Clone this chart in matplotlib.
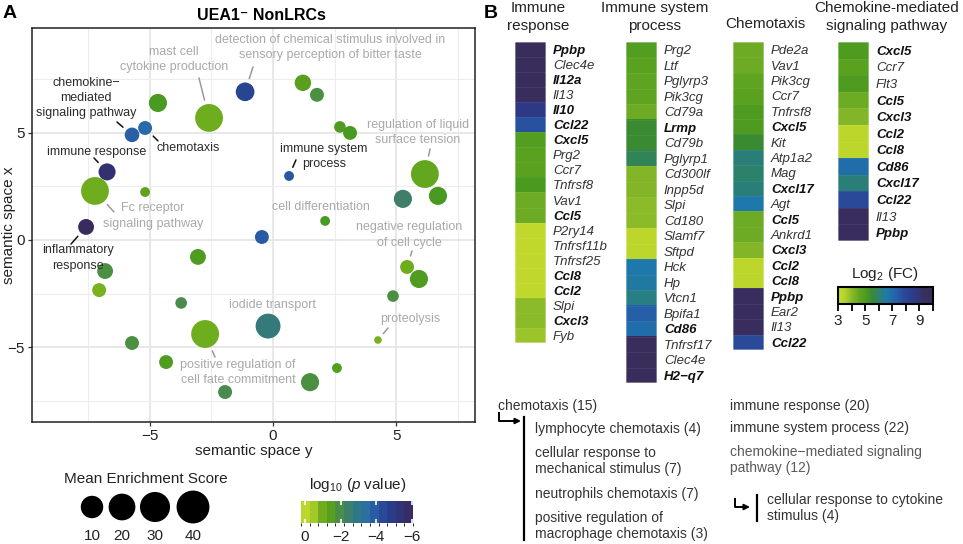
"""Recreate the UEA1- NonLRCs GO bubble plot (A) and gene heatmaps (B)."""

import matplotlib
matplotlib.use("Agg")
import matplotlib.pyplot as plt
import numpy as np
from matplotlib.cm import ScalarMappable
from matplotlib.colors import BoundaryNorm, LinearSegmentedColormap, ListedColormap, Normalize

plt.rcParams["font.family"] = ["Liberation Sans", "DejaVu Sans"]
plt.rcParams["mathtext.fontset"] = "custom"
plt.rcParams["mathtext.rm"] = "Liberation Sans"
plt.rcParams["mathtext.it"] = "Liberation Sans:italic"

W, H = 963, 544

# ---- panel A data (semantic space y is horizontal, x vertical)
space_y = [1.21, 1.78, -1.13, -2.59, -4.66, -5.18, -5.71, 2.71, 3.12, 0.65,
           -6.72, -7.21, 6.15, -5.18, 5.26, 6.68, 2.11, -7.57, -0.45, -3.04,
           -6.80, 5.43, 5.91, -7.04, 4.86, -3.72, -0.20, -2.75, 4.25, -5.71,
           -4.33, 2.59, 1.50, -1.94]
space_x = [7.34, 6.78, 6.92, 5.70, 6.40, 5.23, 4.91, 5.28, 5.00, 2.99,
           3.18, 2.29, 3.08, 2.24, 1.92, 2.06, 0.89, 0.61, 0.14, -0.79,
           -1.45, -1.26, -1.82, -2.34, -2.62, -2.94, -4.02, -4.39, -4.67, -4.81,
           -5.70, -5.98, -6.64, -7.10]
log10_p = [-1.4, -1.9, -4.5, -1.0, -1.7, -3.6, -3.8, -1.6, -1.7, -4.0,
           -5.4, -1.0, -1.2, -1.3, -2.4, -1.7, -1.7, -6.0, -3.9, -1.6,
           -1.9, -1.0, -1.6, -0.9, -1.9, -2.0, -2.7, -1.0, -0.9, -1.9,
           -1.6, -1.5, -1.9, -2.0]
enrichment = [14, 10, 18, 40, 17, 10, 11, 7, 10, 5,
              15, 40, 40, 5, 17, 17, 5, 13, 10, 13,
              13, 10, 17, 10, 7, 7, 32, 40, 3, 10,
              10, 5, 17, 10]

# (bubble index, text, text position, dark?, leader end)
term_labels = [
    (6, "chemokine\u2212\nmediated\nsignaling pathway", (-7.57, 6.64), True, (-6.32, 5.51)),
    (5, "chemotaxis", (-3.44, 4.30), True, (-4.66, 4.63)),
    (10, "immune response", (-7.13, 4.11), True, (-7.25, 3.83)),
    (9, "immune system\nprocess", (2.06, 3.88), True, (0.93, 3.74)),
    (17, "inflammatory\nresponse", (-7.89, -0.84), True, (-8.18, -0.19)),
    (3, "mast cell\ncytokine production", (-4.01, 8.41), False, (-3.0, 7.57)),
    (2, "detection of chemical stimulus involved in\nsensory perception of bitter taste",
     (2.31, 8.97), False, (-0.81, 8.08)),
    (12, "regulation of liquid\nsurface tension", (5.87, 5.0), False, (6.36, 4.25)),
    (11, "Fc receptor\nsignaling pathway", (-4.86, 1.12), False, (-6.44, 1.31)),
    (16, "cell differentiation", (1.94, 1.54), False, None),
    (21, "negative regulation\nof cell cycle", (5.51, 0.23), False, (5.63, -0.51)),
    (26, "iodide transport", (-0.04, -3.04), False, None),
    (28, "proteolysis", (5.55, -3.69), False, (4.66, -4.11)),
    (27, "positive regulation of\ncell fate commitment", (-1.42, -6.17), False, (-2.35, -5.47)),
]

legend_scores = [10, 20, 30, 40]

# ---- panel B data
ir_genes = ["Ppbp", "Clec4e", "Il12a", "Il13", "Il10", "Ccl22", "Cxcl5", "Prg2", "Ccr7",
            "Tnfrsf8", "Vav1", "Ccl5", "P2ry14", "Tnfrsf11b", "Tnfrsf25", "Ccl8", "Ccl2",
            "Slpi", "Cxcl3", "Fyb"]
ir_fc = [9.8, 9.8, 9.7, 9.7, 8.6, 7.6, 4.9, 4.7, 4.7, 5.1, 4.4, 4.4, 3.2, 3.2, 3.2, 3.2, 3.2,
         4.0, 4.0, 3.8]
isp_genes = ["Prg2", "Ltf", "Pglyrp3", "Pik3cg", "Cd79a", "Lrmp", "Cd79b", "Pglyrp1",
             "Cd300lf", "Inpp5d", "Slpi", "Cd180", "Slamf7", "Sftpd", "Hck", "Hp", "Vtcn1",
             "Bpifa1", "Cd86", "Tnfrsf17", "Clec4e", "H2\u2212q7"]
isp_fc = [4.9, 4.7, 4.6, 4.6, 4.4, 5.5, 5.5, 5.8, 4.1, 4.1, 4.0, 4.0, 3.3, 3.3, 6.6, 6.5, 6.2,
          7.3, 6.9, 9.7, 9.8, 9.8]
chemo_genes = ["Pde2a", "Vav1", "Pik3cg", "Ccr7", "Tnfrsf8", "Cxcl5", "Kit", "Atp1a2", "Mag",
               "Cxcl17", "Agt", "Ccl5", "Ankrd1", "Cxcl3", "Ccl2", "Ccl8", "Ppbp", "Ear2",
               "Il13", "Ccl22"]
chemo_fc = [4.4, 4.4, 4.6, 4.7, 5.0, 5.0, 5.5, 6.1, 6.0, 6.1, 6.6, 4.4, 4.4, 4.1, 3.3, 3.3,
            9.7, 9.7, 9.7, 7.8]
cmsp_genes = ["Cxcl5", "Ccr7", "Flt3", "Ccl5", "Cxcl3", "Ccl2", "Ccl8", "Cd86", "Cxcl17",
              "Ccl22", "Il13", "Ppbp"]
cmsp_fc = [5.0, 4.7, 5.0, 4.4, 4.1, 3.3, 3.3, 6.9, 6.1, 7.8, 9.7, 9.7]
bold_genes = {"Ppbp", "Il12a", "Il10", "Ccl22", "Cxcl5", "Ccl5", "Ccl8", "Ccl2", "Cxcl3",
              "Lrmp", "Cd86", "H2\u2212q7", "Cxcl17"}

# ---- colour scales
P_MIN, P_MAX = -6.05, 0.22
p_anchors = [(0.22, "#c8dc2e"), (-0.5, "#a2c82a"), (-1.0, "#6cac1e"), (-1.4, "#58a01e"),
             (-1.7, "#4a9a22"), (-2.0, "#4a8a50"), (-2.4, "#3f7f6a"), (-2.8, "#31797f"),
             (-3.2, "#2a7598"), (-3.6, "#2a6aaa"), (-4.0, "#2a56a2"), (-4.5, "#284592"),
             (-5.0, "#2d3a84"), (-5.5, "#322f6e"), (-6.05, "#3a2b5c")]
p_cmap = LinearSegmentedColormap.from_list(
    "pval", [((v - P_MIN) / (P_MAX - P_MIN), c) for v, c in reversed(p_anchors)])
p_norm = Normalize(P_MIN, P_MAX)

fc_anchors = [(3, "#c9dd2c"), (3.5, "#b4d22c"), (4.1, "#82b628"), (4.6, "#5fa421"),
              (5.1, "#4a9a20"), (5.5, "#3a8a32"), (6.1, "#2a8078"), (6.6, "#1f78ac"),
              (7.3, "#2560a8"), (7.8, "#2a4a9a"), (8.6, "#2e3a86"), (9.4, "#35305f"),
              (10, "#3b2c5c")]
fc_cmap = LinearSegmentedColormap.from_list(
    "fc", [((v - 3) / 7, c) for v, c in fc_anchors])
fc_norm = Normalize(3, 10)


def px_axes(fig, x0, y0, x1, y1):
    return fig.add_axes([x0 / W, 1 - y1 / H, (x1 - x0) / W, (y1 - y0) / H])


def bubble_radius(score):
    return 2.2 * np.sqrt(score)


def marker_area(radius_px):
    return (2 * radius_px * 72 / 100) ** 2


def draw_bubbles(fig):
    ax = px_axes(fig, 32, 28, 475, 422)
    ax.set_xlim(-9.76, 8.18)
    ax.set_ylim(-8.5, 9.9)
    ax.set_xticks([-5, 0, 5])
    ax.set_yticks([-5, 0, 5])
    ax.set_xticks([-7.5, -2.5, 2.5, 7.5], minor=True)
    ax.set_yticks([-7.5, -2.5, 2.5, 7.5], minor=True)
    ax.grid(True, which="major", color="#e6e6e6", lw=1.3, zorder=0)
    ax.grid(True, which="minor", color="#ededed", lw=0.8, zorder=0)
    ax.set_axisbelow(True)
    ax.tick_params(which="minor", length=0)
    ax.tick_params(which="major", length=3, width=0.9, color="#333333",
                   labelsize=11, labelcolor="#222222", pad=2)
    for spine in ax.spines.values():
        spine.set_linewidth(1.1)
        spine.set_color("#222222")

    radii = [bubble_radius(s) for s in enrichment]
    ax.scatter(space_y, space_x, s=[marker_area(r) for r in radii],
               c=log10_p, cmap=p_cmap, norm=p_norm, edgecolors="none", zorder=3)

    for idx, text, (tx, ty), dark, leader in term_labels:
        color = "#2b2b2b" if dark else "#a9a9a9"
        if leader is not None:
            ax.annotate("", xy=(space_y[idx], space_x[idx]), xytext=leader,
                        arrowprops=dict(arrowstyle="-", color="#111111" if dark else "#999999",
                                        lw=1.1, shrinkA=0,
                                        shrinkB=(radii[idx] + 4.5) * 0.72),
                        zorder=4)
        ax.text(tx, ty, text, ha="center", va="center", fontsize=9, color=color,
                linespacing=1.35, zorder=5)

    ax.set_xlabel("semantic space y", fontsize=11, color="#222222", labelpad=1)
    ax.set_ylabel("semantic space x", fontsize=11, color="#222222", va="center")
    ax.yaxis.set_label_coords((9 - 32) / 443, 0.5)


def draw_heatmap(fig, rect, genes, values):
    ax = px_axes(fig, *rect)
    ax.imshow(np.array(values)[:, None], cmap=fc_cmap, norm=fc_norm,
              aspect="auto", interpolation="nearest")
    ax.hlines(np.arange(0.5, len(genes) - 0.5), -0.5, 0.5, color="white",
              alpha=0.07, lw=0.6)
    ax.set_xticks([])
    ax.set_yticks(range(len(genes)))
    ax.set_yticklabels(genes)
    ax.yaxis.tick_right()
    ax.tick_params(axis="y", length=0, pad=5, labelsize=9.5)
    for label, gene in zip(ax.get_yticklabels(), genes):
        label.set_fontstyle("italic")
        if gene in bold_genes:
            label.set_fontweight("bold")
            label.set_color("#111111")
        else:
            label.set_color("#333333")
    for spine in ax.spines.values():
        spine.set_color((1, 1, 1, 0.35))
        spine.set_linewidth(1.4)


def main() -> None:
    fig = plt.figure(figsize=(W / 100, H / 100), dpi=100)

    fig.text(3 / W, 1 - 14 / H, "A", fontsize=14, fontweight="bold", va="center")
    fig.text(484 / W, 1 - 14 / H, "B", fontsize=14, fontweight="bold", va="center")
    fig.text(261 / W, 1 - 16 / H, "UEA1\u207b NonLRCs", fontsize=11.5, fontweight="bold",
             ha="center", va="center")

    draw_bubbles(fig)

    # size legend
    leg = fig.add_axes([0, 0, 1, 1], facecolor="none")
    leg.set_xlim(0, W)
    leg.set_ylim(H, 0)
    leg.axis("off")
    leg.text(146, 479, "Mean Enrichment Score", ha="center", va="center", fontsize=11,
             color="#222222")
    legend_x = [92, 122, 155, 193]
    legend_r = [6 + 1.65 * np.sqrt(s) for s in legend_scores]
    leg.scatter(legend_x, [507] * len(legend_x), s=[marker_area(r) for r in legend_r],
                color="black", edgecolors="none")
    for x, score in zip(legend_x, legend_scores):
        leg.text(x, 536, str(score), ha="center", va="center", fontsize=11, color="#222222")

    # p value colour bar (stepped)
    leg.text(358, 485, "log$_{10}$ ($p$ value)", ha="center", va="center", fontsize=11,
             color="#222222")
    bounds = np.linspace(P_MIN, P_MAX, 14)
    centers = (bounds[:-1] + bounds[1:]) / 2
    step_cmap = ListedColormap(p_cmap(p_norm(centers)))
    cax = px_axes(fig, 301, 501, 413, 523)
    cb = fig.colorbar(ScalarMappable(norm=BoundaryNorm(bounds, len(centers)), cmap=step_cmap),
                      cax=cax, orientation="horizontal", ticks=[0, -2, -4, -6])
    cb.outline.set_visible(False)
    cax.invert_xaxis()
    cax.tick_params(direction="in", color="white", length=3, width=1.2, top=True,
                    bottom=True, labelsize=11, labelcolor="#222222", pad=5)

    # panel B heatmaps
    draw_heatmap(fig, (515, 42, 546, 343), ir_genes, ir_fc)
    draw_heatmap(fig, (626, 42, 657, 383), isp_genes, isp_fc)
    draw_heatmap(fig, (733, 42, 764, 350), chemo_genes, chemo_fc)
    draw_heatmap(fig, (838, 42, 869, 241), cmsp_genes, cmsp_fc)

    titles = [(538, 17, "Immune\nresponse"), (655, 17, "Immune system\nprocess"),
              (765, 24, "Chemotaxis"), (887, 17, "Chemokine-mediated\nsignaling pathway")]
    for x, y, text in titles:
        leg.text(x, y, text, ha="center", va="center", fontsize=11, color="#222222",
                 linespacing=1.3)

    # log2 FC colour bar
    leg.text(885, 274, "Log$_2$ (FC)", ha="center", va="center", fontsize=11,
             color="#222222")
    cax2 = px_axes(fig, 838, 287, 933, 304)
    cb2 = fig.colorbar(ScalarMappable(norm=fc_norm, cmap=fc_cmap), cax=cax2,
                       orientation="horizontal", ticks=range(3, 11))
    cb2.ax.set_xticklabels(["3", "", "5", "", "7", "", "9", ""])
    cb2.outline.set_linewidth(1.5)
    cax2.tick_params(length=5, width=1.3, color="black", labelsize=11,
                     labelcolor="#222222", pad=2)

    # GO term hierarchy notes
    note_color = "#333333"
    notes = [
        (498, 406, "chemotaxis (15)", note_color),
        (535, 429, "lymphocyte chemotaxis (4)", note_color),
        (535, 461, "cellular response to\nmechanical stimulus (7)", note_color),
        (535, 494, "neutrophils chemotaxis (7)", note_color),
        (535, 526, "positive regulation of\nmacrophage chemotaxis (3)", note_color),
        (730, 406, "immune response (20)", note_color),
        (730, 428, "immune system process (22)", note_color),
        (730, 460, "chemokine\u2212mediated signaling\npathway (12)", "#5a5a5a"),
        (767, 508, "cellular response to cytokine\nstimulus (4)", note_color),
    ]
    for x, y, text, color in notes:
        leg.text(x, y, text, ha="left", va="center", fontsize=10, color=color,
                 linespacing=1.1)

    for (cx, cy0, cy1, ax_end), (vx, vy0, vy1) in [
        ((499, 412, 421, 521), (524, 417, 540)),
        ((735, 498, 507, 750), (757, 495, 521)),
    ]:
        leg.plot([cx, cx, ax_end - 6], [cy0, cy1, cy1], color="black", lw=1.4,
                 solid_capstyle="butt")
        leg.annotate("", xy=(ax_end, cy1), xytext=(ax_end - 8, cy1),
                     arrowprops=dict(arrowstyle="-|>", color="black", lw=1.4,
                                     mutation_scale=8, shrinkA=0, shrinkB=0))
        leg.plot([vx, vx], [vy0, vy1], color="black", lw=1.6)

    fig.savefig("out.png", dpi=100)
    plt.close(fig)


if __name__ == "__main__":
    main()
